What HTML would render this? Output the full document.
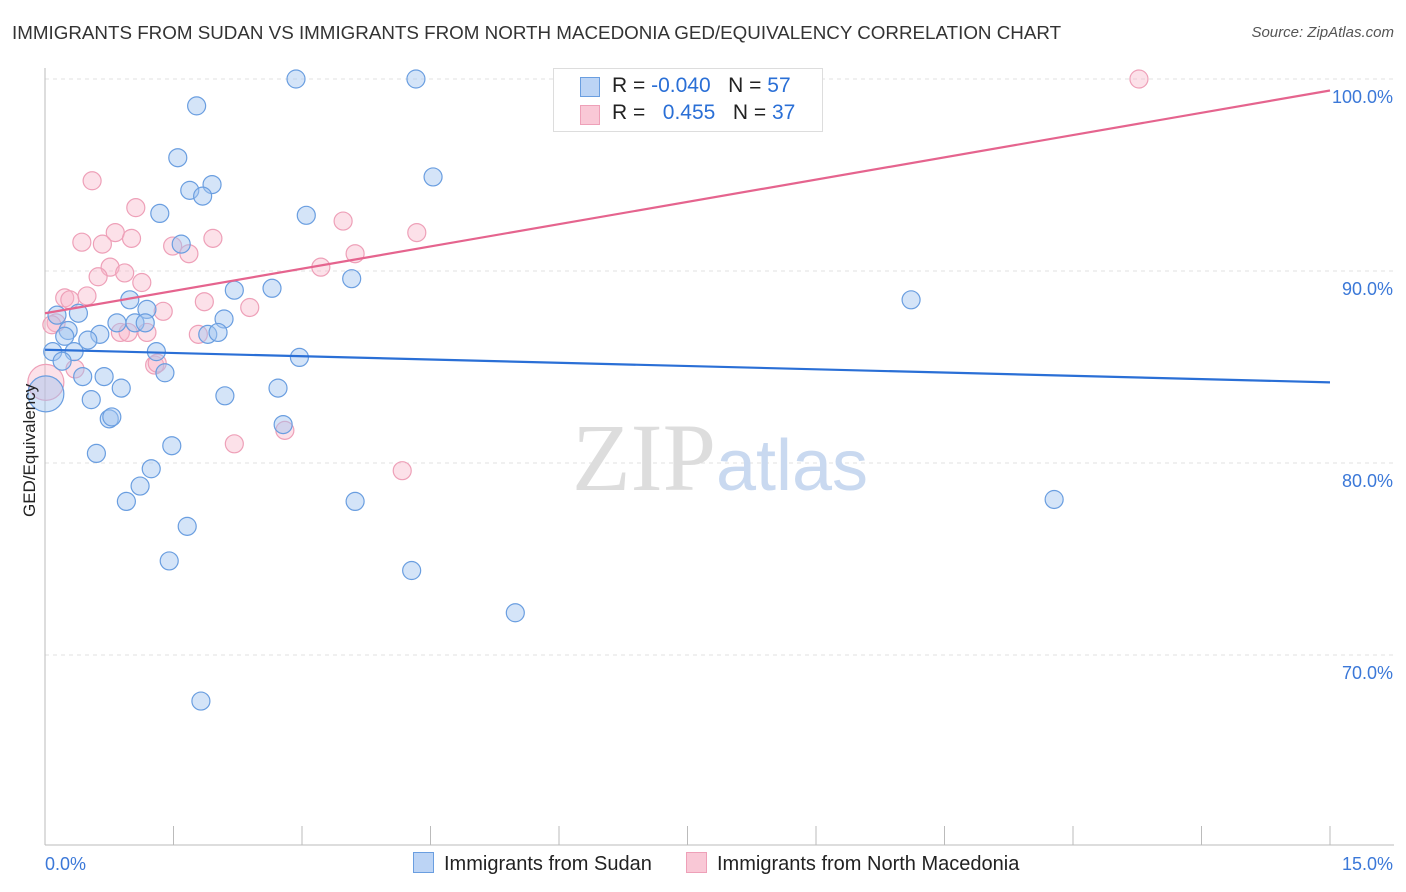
<!DOCTYPE html>
<html><head><meta charset="utf-8">
<style>
body{margin:0;background:#fff;font-family:"Liberation Sans",sans-serif;}
#wrap{position:relative;width:1406px;height:892px;overflow:hidden;}
.t{position:absolute;white-space:nowrap;}
</style></head>
<body>
<div id="wrap">
<div class="t" style="left:12px;top:22px;font-size:18.8px;color:#333;">IMMIGRANTS FROM SUDAN VS IMMIGRANTS FROM NORTH MACEDONIA GED/EQUIVALENCY CORRELATION CHART</div>
<div class="t" style="right:12px;top:24px;font-size:15px;color:#555;font-style:italic;">Source: ZipAtlas.com</div>
<svg id="svg" width="1406" height="892" style="position:absolute;left:0;top:0"></svg>
</div>
<script>
const yTicks=[100,90,80,70];
const yTickLabels=["100.0%","90.0%","80.0%","70.0%"];
const xTickLabels=["0.0%","15.0%"];
const sudanX=[2.93,4.33,1.77,1.55,4.53,1.95,1.69,1.84,1.34,3.05,1.59,3.58,2.21,2.65,10.11,0.99,1.19,0.14,0.39,0.84,1.05,1.17,2.09,0.27,0.23,0.64,0.50,1.90,2.02,0.09,0.34,1.30,0.20,2.97,1.40,0.44,0.69,0.01,0.89,2.72,2.10,0.54,0.75,0.78,2.78,1.48,0.60,1.24,1.11,0.95,3.62,11.78,1.66,1.45,4.28,5.49,1.82];
const sudanY=[100,100,98.6,95.9,94.9,94.5,94.2,93.9,93.0,92.9,91.4,89.6,89.0,89.1,88.5,88.5,88.0,87.7,87.8,87.3,87.3,87.3,87.5,86.9,86.6,86.7,86.4,86.7,86.8,85.8,85.8,85.8,85.3,85.5,84.7,84.5,84.5,83.6,83.9,83.9,83.5,83.3,82.3,82.4,82.0,80.9,80.5,79.7,78.8,78.0,78.0,78.1,76.7,74.9,74.4,72.2,67.6];
const sudanBig=[37];
const macX=[12.77,0.55,1.06,3.48,0.82,1.01,0.43,1.96,0.67,1.49,1.68,3.62,4.34,0.76,3.22,0.93,0.62,1.13,0.23,0.29,0.49,1.86,2.39,1.38,0.13,0.88,1.19,1.79,0.35,1.28,1.31,0.01,2.80,2.21,4.17,0.08,0.97];
const macY=[100,94.7,93.3,92.6,92.0,91.7,91.5,91.7,91.4,91.3,90.9,90.9,92.0,90.2,90.2,89.9,89.7,89.4,88.6,88.5,88.7,88.4,88.1,87.9,87.3,86.8,86.8,86.7,84.9,85.1,85.2,84.2,81.7,81.0,79.6,87.2,86.8];
const macBig=[31];
const sudanTrend=[85.9,84.2];
const macTrend=[87.8,99.4];
const X0=45,X1=1330,XMAX=15;
function sx(v){return X0+(X1-X0)*v/XMAX;}
function sy(v){return 79+(100-v)*19.2;}
const NS="http://www.w3.org/2000/svg";
const svg=document.getElementById('svg');
function el(tag,attrs,parent){const e=document.createElementNS(NS,tag);for(const k in attrs)e.setAttribute(k,attrs[k]);(parent||svg).appendChild(e);return e;}
yTicks.forEach((v,i)=>{
 const g=el('line',{x1:45,x2:1394,y1:sy(v),y2:sy(v),stroke:'#e2e2e2','stroke-dasharray':'4,4'});
 
 
 const t=el('text',{x:1393,y:sy(v)+24,'text-anchor':'end','font-size':18,fill:'#3b78d8','font-family':'Liberation Sans'});
 t.textContent=yTickLabels[i];
 
 
});
const ax=el('line',{x1:45,x2:45,y1:68,y2:845,stroke:'#bbb'});


const bx=el('line',{x1:45,x2:1394,y1:845,y2:845,stroke:'#bbb'});


for(let i=0;i<=10;i++){const v=i*1.5;const tk=el('line',{x1:sx(v),x2:sx(v),y1:826,y2:845,stroke:'#bbb'});
 
 }
[[0,'start',45],[15,'end',1393]].forEach((a,i)=>{const t=el('text',{x:a[2],y:870,'text-anchor':a[1],'font-size':18,fill:'#3b78d8','font-family':'Liberation Sans'});t.textContent=xTickLabels[i];
 
 });
const wm=el('text',{x:720,y:490,'text-anchor':'middle','font-size':96,'font-family':'Liberation Serif',fill:'#ddd'});
wm.innerHTML='ZIP<tspan fill="#c9d9f0" font-family="Liberation Sans" font-size="72">atlas</tspan>';


function pts(xs,ys,big,fill,stroke,name){xs.forEach((x,i)=>{const c=el('circle',{cx:sx(x),cy:sy(ys[i]),r:big.includes(i)?18:9,fill:fill,stroke:stroke,'stroke-width':1.2});
 
 });}
pts(macX,macY,macBig,'rgba(248,180,200,0.4)','#eea0b8','point-north-macedonia');
pts(sudanX,sudanY,sudanBig,'rgba(160,195,240,0.45)','#6a9ee0','point-sudan');
const l1=el('line',{x1:sx(0),y1:sy(sudanTrend[0]),x2:sx(15),y2:sy(sudanTrend[1]),stroke:'#2a6fd6','stroke-width':2.2});


const l2=el('line',{x1:sx(0),y1:sy(macTrend[0]),x2:sx(15),y2:sy(macTrend[1]),stroke:'#e5648e','stroke-width':2.2});


</script>
<div class="t" style="left:-30px;top:447px;font-size:17px;color:#222;transform:rotate(-90deg);transform-origin:center;width:120px;text-align:center;">GED/Equivalency</div>
<div style="position:absolute;left:553px;top:68px;width:268px;height:62px;border:1px solid #ddd;background:#fff;font-size:21px;color:#222;">
 <div style="position:absolute;left:26px;top:8px;width:18px;height:18px;background:#bcd4f5;border:1px solid #6a9ee0;"></div>
 <div class="t" style="left:58px;top:5px;">R = <span style="color:#2a6fd6">-0.040</span>&nbsp;&nbsp;&nbsp;N = <span style="color:#2a6fd6">57</span></div>
 <div style="position:absolute;left:26px;top:36px;width:18px;height:18px;background:#f9c8d6;border:1px solid #eea0b8;"></div>
 <div class="t" style="left:58px;top:32px;">R = &nbsp;&nbsp;<span style="color:#2a6fd6">0.455</span>&nbsp;&nbsp;&nbsp;N = <span style="color:#2a6fd6">37</span></div>
</div>
<div style="position:absolute;left:413px;top:852px;font-size:20px;color:#222;">
 <span style="display:inline-block;width:19px;height:19px;background:#bcd4f5;border:1px solid #6a9ee0;vertical-align:-3px;margin-right:10px;"></span>Immigrants from Sudan</div>
<div style="position:absolute;left:686px;top:852px;font-size:20px;color:#222;">
 <span style="display:inline-block;width:19px;height:19px;background:#f9c8d6;border:1px solid #eea0b8;vertical-align:-3px;margin-right:10px;"></span>Immigrants from North Macedonia</div>
</body></html>
